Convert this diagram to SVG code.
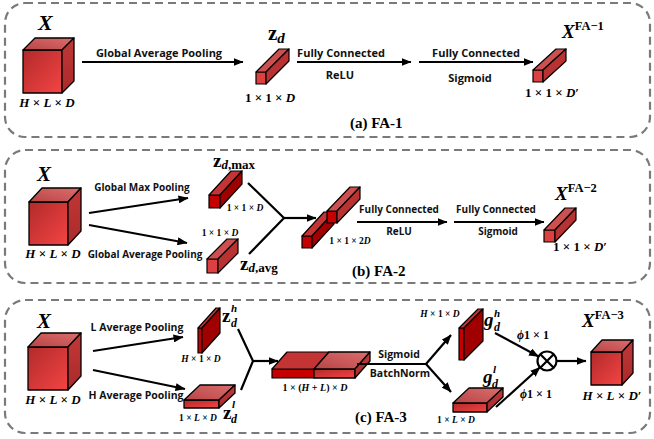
<svg xmlns="http://www.w3.org/2000/svg" width="654" height="439" viewBox="0 0 654 439">
  <defs>
    <linearGradient id="gFront" x1="0" y1="0" x2="1" y2="1">
      <stop offset="0" stop-color="#b22a2a"/>
      <stop offset="1" stop-color="#f44444"/>
    </linearGradient>
    <linearGradient id="gTop" x1="0" y1="1" x2="1" y2="0">
      <stop offset="0" stop-color="#b84444"/>
      <stop offset="1" stop-color="#dc6e6e"/>
    </linearGradient>
    <linearGradient id="gSide" x1="0" y1="0" x2="0" y2="1">
      <stop offset="0" stop-color="#c03838"/>
      <stop offset="1" stop-color="#ab2a2a"/>
    </linearGradient>
    <marker id="ah" viewBox="0 0 10 8" markerWidth="10" markerHeight="8" refX="9.5" refY="4" orient="auto" markerUnits="userSpaceOnUse">
      <path d="M0,0 L10,4 L0,8 Z" fill="#000"/>
    </marker>
    <style>
      .panel { fill: none; stroke: #7a7a7a; stroke-width: 2.2; stroke-dasharray: 8 5; }
      .fr { fill: url(#gFront); stroke: #000; stroke-width: 1.3; stroke-linejoin: round; }
      .tp { fill: url(#gTop); stroke: #000; stroke-width: 1.3; stroke-linejoin: round; }
      .sd { fill: url(#gSide); stroke: #000; stroke-width: 1.3; stroke-linejoin: round; }
      .frL { fill: #dd4040; stroke: #000; stroke-width: 1.2; stroke-linejoin: round; }
      .tpL { fill: #cc5050; stroke: #000; stroke-width: 1.2; stroke-linejoin: round; }
      .sdL { fill: #b83232; stroke: #000; stroke-width: 1.2; stroke-linejoin: round; }
      .frD { fill: #c40000; stroke: #000; stroke-width: 1.2; stroke-linejoin: round; }
      .tpD { fill: #c43434; stroke: #000; stroke-width: 1.2; stroke-linejoin: round; }
      .sdD { fill: #a00000; stroke: #000; stroke-width: 1.2; stroke-linejoin: round; }
      .ln { fill: none; stroke: #000; stroke-width: 2.2; }
      .arr { fill: none; stroke: #000; stroke-width: 2.2; marker-end: url(#ah); }
      .lbl { font-family: "Open Sans", "Noto Sans", sans-serif; font-weight: bold; font-size: 11px; fill: #111; text-anchor: middle; }
      .sm { font-size: 10px; }
      .md { font-size: 10.5px; }
      .m { font-family: "Liberation Serif", "DejaVu Serif", serif; font-weight: bold; fill: #000; }
      .it { font-style: italic; }
      .cap { font-family: "Liberation Serif", "DejaVu Serif", serif; font-weight: bold; font-size: 15px; fill: #000; }
    </style>
  </defs>

  <!-- panel frames -->
  <rect class="panel" x="5" y="3" width="645" height="134" rx="20"/>
  <rect class="panel" x="5" y="150" width="645" height="133" rx="20"/>
  <rect class="panel" x="5" y="300" width="645" height="133" rx="20"/>

  <!-- ================= (a) FA-1 ================= -->
  <g id="a-input">
    <rect class="fr" x="23" y="50" width="39" height="43"/>
    <polygon class="tp" points="23,50 62,50 74,38 35,38"/>
    <polygon class="sd" points="62,50 74,38 74,81 62,93"/>
    <text class="m it" x="38" y="30" font-size="22">X</text>
    <text class="m" x="47" y="107" font-size="13" text-anchor="middle"><tspan class="it">H</tspan> × <tspan class="it">L</tspan> × <tspan class="it">D</tspan></text>
  </g>
  <g id="a-zd">
    <rect class="frL" x="256" y="72" width="10" height="12"/>
    <polygon class="tpL" points="256,72 266,72 289,49 279,49"/>
    <polygon class="sdL" points="266,72 289,49 289,61 266,84"/>
    <text class="m" x="268" y="40" font-size="21">z<tspan class="it" font-size="15" dy="3">d</tspan></text>
    <text class="m" x="270" y="102" font-size="13" text-anchor="middle">1 × 1 × <tspan class="it">D</tspan></text>
  </g>
  <g id="a-output">
    <rect class="frL" x="533" y="70" width="10" height="12"/>
    <polygon class="tpL" points="533,70 543,70 566,49 556,49"/>
    <polygon class="sdL" points="543,70 566,49 566,61 543,82"/>
    <text class="m" x="562" y="38" font-size="19"><tspan class="it">X</tspan><tspan font-size="12.5" dy="-8">FA−1</tspan></text>
    <text class="m" x="552" y="97" font-size="13" text-anchor="middle">1 × 1 × <tspan class="it">D</tspan>′</text>
  </g>
  <g id="a-connectors">
    <line class="arr" x1="82" y1="62" x2="243" y2="62"/>
    <line class="arr" x1="297" y1="62" x2="411" y2="62"/>
    <line class="arr" x1="419" y1="62" x2="533" y2="62"/>
    <text class="lbl" x="159" y="57">Global Average Pooling</text>
    <text class="lbl" x="341" y="57">Fully Connected</text>
    <text class="lbl" x="340" y="79">ReLU</text>
    <text class="lbl" x="476" y="57">Fully Connected</text>
    <text class="lbl" x="470" y="82">Sigmoid</text>
  </g>
  <text class="cap" x="350" y="128">(a) FA-1</text>

  <!-- ================= (b) FA-2 ================= -->
  <g id="b-input">
    <rect class="fr" x="29" y="202" width="39" height="43"/>
    <polygon class="tp" points="29,202 68,202 81,188 42,188"/>
    <polygon class="sd" points="68,202 81,188 81,231 68,245"/>
    <text class="m it" x="37" y="181" font-size="21">X</text>
    <text class="m" x="53" y="258" font-size="13" text-anchor="middle"><tspan class="it">H</tspan> × <tspan class="it">L</tspan> × <tspan class="it">D</tspan></text>
  </g>
  <g id="b-zmax">
    <rect class="frD" x="209" y="195" width="11" height="13"/>
    <polygon class="tpD" points="209,195 220,195 242,171 231,171"/>
    <polygon class="sdD" points="220,195 242,171 242,184 220,208"/>
    <text class="m" x="213" y="167" font-size="19">z<tspan font-size="13" dy="2"><tspan class="it">d</tspan>,max</tspan></text>
    <text class="m" x="245" y="211" font-size="9.5" text-anchor="middle">1 × 1 × <tspan class="it">D</tspan></text>
  </g>
  <g id="b-zavg">
    <rect class="frL" x="207" y="259" width="11" height="14"/>
    <polygon class="tpL" points="207,259 218,259 238,239 227,239"/>
    <polygon class="sdL" points="218,259 238,239 238,253 218,273"/>
    <text class="m" x="240" y="270" font-size="19">z<tspan font-size="13" dy="2"><tspan class="it">d</tspan>,avg</tspan></text>
    <text class="m" x="220" y="236" font-size="9.5" text-anchor="middle">1 × 1 × <tspan class="it">D</tspan></text>
  </g>
  <g id="b-concat">
    <rect class="frD" x="302" y="236" width="10" height="12"/>
    <polygon class="tpD" points="302,236 312,236 334,212 324,212"/>
    <polygon class="sdD" points="312,236 334,212 334,224 312,248"/>
    <rect class="frD" x="327" y="211" width="10" height="12"/>
    <polygon class="tpL" points="327,211 337,211 360,187 350,187"/>
    <polygon class="sdL" points="337,211 360,187 360,199 337,223"/>
    <text class="m" x="350" y="244" font-size="9.5" text-anchor="middle">1 × 1 × 2<tspan class="it">D</tspan></text>
  </g>
  <g id="b-output">
    <rect class="frL" x="544" y="230" width="11" height="12"/>
    <polygon class="tpL" points="544,230 555,230 576,208 565,208"/>
    <polygon class="sdL" points="555,230 576,208 576,220 555,242"/>
    <text class="m" x="555" y="200" font-size="19"><tspan class="it">X</tspan><tspan font-size="12.5" dy="-8">FA−2</tspan></text>
    <text class="m" x="580" y="251" font-size="13" text-anchor="middle">1 × 1 × <tspan class="it">D</tspan>′</text>
  </g>
  <g id="b-connectors">
    <line class="arr" x1="89" y1="213" x2="188" y2="198"/>
    <line class="arr" x1="89" y1="225" x2="187" y2="243"/>
    <polyline class="ln" points="248,183 284,218 249,254"/>
    <line class="arr" x1="284" y1="218" x2="316" y2="218"/>
    <line class="arr" x1="357" y1="222" x2="447" y2="222"/>
    <line class="arr" x1="454" y1="222" x2="544" y2="222"/>
    <text class="lbl sm" x="142" y="191">Global Max Pooling</text>
    <text class="lbl sm" x="145" y="258">Global Average Pooling</text>
    <text class="lbl sm" x="399" y="213">Fully Connected</text>
    <text class="lbl sm" x="399" y="235">ReLU</text>
    <text class="lbl sm" x="496" y="213">Fully Connected</text>
    <text class="lbl sm" x="498" y="235">Sigmoid</text>
  </g>
  <text class="cap" x="352" y="276">(b) FA-2</text>

  <!-- ================= (c) FA-3 ================= -->
  <g id="c-input">
    <rect class="fr" x="28" y="347" width="40" height="43"/>
    <polygon class="tp" points="28,347 68,347 81,333 41,333"/>
    <polygon class="sd" points="68,347 81,333 81,376 68,390"/>
    <text class="m it" x="37" y="328" font-size="21">X</text>
    <text class="m" x="53" y="404" font-size="13" text-anchor="middle"><tspan class="it">H</tspan> × <tspan class="it">L</tspan> × <tspan class="it">D</tspan></text>
  </g>
  <g id="c-zh">
    <rect class="frD" x="198" y="328" width="4" height="25"/>
    <polygon class="tpD" points="198,328 202,328 220,308 216,308"/>
    <polygon class="sdD" points="202,328 220,308 220,333 202,353"/>
    <text class="m" x="222" y="322" font-size="19">z</text>
    <text class="m it" x="231" y="312" font-size="11">h</text>
    <text class="m it" x="231" y="327" font-size="12">d</text>
    <text class="m" x="201" y="362" font-size="9.5" text-anchor="middle"><tspan class="it">H</tspan> × 1 × <tspan class="it">D</tspan></text>
  </g>
  <g id="c-zl">
    <rect class="fr" x="184" y="400" width="35" height="8"/>
    <polygon class="tp" points="184,400 219,400 235,385 200,385"/>
    <polygon class="sd" points="219,400 235,385 235,393 219,408"/>
    <text class="m" x="223" y="419" font-size="19">z</text>
    <text class="m it" x="232" y="408" font-size="11">l</text>
    <text class="m it" x="231" y="423" font-size="12">d</text>
    <text class="m" x="198" y="421" font-size="9.5" text-anchor="middle">1 × <tspan class="it">L</tspan> × <tspan class="it">D</tspan></text>
  </g>
  <g id="c-concat">
    <rect class="frD" x="272" y="369" width="42" height="9"/>
    <polygon class="tpD" points="272,369 314,369 329,352 287,352"/>
    <rect class="fr" x="314" y="369" width="41" height="9"/>
    <polygon class="tp" points="314,369 355,369 370,352 329,352"/>
    <polygon class="sd" points="355,369 370,352 370,361 355,378"/>
    <text class="m" x="315" y="391" font-size="10" text-anchor="middle">1 × (<tspan class="it">H</tspan> + <tspan class="it">L</tspan>) × <tspan class="it">D</tspan></text>
  </g>
  <g id="c-gh">
    <rect class="frD" x="459" y="328" width="5" height="32"/>
    <polygon class="tpD" points="459,328 464,328 483,309 478,309"/>
    <polygon class="sdD" points="464,328 483,309 483,341 464,360"/>
    <text class="m it" x="484" y="326" font-size="19">g</text>
    <text class="m it" x="494" y="317" font-size="11">h</text>
    <text class="m it" x="494" y="331" font-size="12">d</text>
    <text class="m" x="440" y="317" font-size="9.5" text-anchor="middle"><tspan class="it">H</tspan> × 1 × <tspan class="it">D</tspan></text>
  </g>
  <g id="c-gl">
    <rect class="fr" x="453" y="403" width="34" height="9"/>
    <polygon class="tp" points="453,403 487,403 503,388 469,388"/>
    <polygon class="sd" points="487,403 503,388 503,397 487,412"/>
    <text class="m it" x="483" y="383" font-size="19">g</text>
    <text class="m it" x="493" y="373" font-size="11">l</text>
    <text class="m it" x="492" y="388" font-size="12">d</text>
    <text class="m" x="456" y="423" font-size="9.5" text-anchor="middle">1 × <tspan class="it">L</tspan> × <tspan class="it">D</tspan></text>
  </g>
  <g id="c-mult">
    <circle cx="547" cy="361" r="9.5" fill="#fff" stroke="#000" stroke-width="2.2"/>
    <path d="M540.3,354.3 L553.7,367.7 M553.7,354.3 L540.3,367.7" stroke="#000" stroke-width="2.2" fill="none"/>
  </g>
  <g id="c-output">
    <rect class="fr" x="591" y="352" width="31" height="33"/>
    <polygon class="tp" points="591,352 622,352 633,340 602,340"/>
    <polygon class="sd" points="622,352 633,340 633,373 622,385"/>
    <text class="m" x="582" y="327" font-size="19"><tspan class="it">X</tspan><tspan font-size="12.5" dy="-8">FA−3</tspan></text>
    <text class="m" x="612" y="400" font-size="13" text-anchor="middle"><tspan class="it">H</tspan> × <tspan class="it">L</tspan> × <tspan class="it">D</tspan>′</text>
  </g>
  <g id="c-connectors">
    <line class="arr" x1="93" y1="351" x2="183" y2="337"/>
    <line class="arr" x1="93" y1="370" x2="185" y2="389"/>
    <polyline class="ln" points="238,329 253,361 241,390"/>
    <line class="arr" x1="253" y1="361" x2="278" y2="361"/>
    <line class="ln" x1="357" y1="364" x2="426" y2="364"/>
    <line class="arr" x1="426" y1="364" x2="451" y2="335"/>
    <line class="arr" x1="426" y1="364" x2="451" y2="392"/>
    <line class="arr" x1="495" y1="333" x2="538.6" y2="356.5"/>
    <line class="arr" x1="496" y1="407" x2="540" y2="367.3"/>
    <line class="arr" x1="556.5" y1="361" x2="586" y2="361"/>
    <text class="lbl md" x="137" y="331">L Average Pooling</text>
    <text class="lbl md" x="136" y="399">H Average Pooling</text>
    <text class="lbl md" x="399" y="358">Sigmoid</text>
    <text class="lbl md" x="400" y="377">BatchNorm</text>
    <text class="m" x="533" y="339" font-size="12" text-anchor="middle"><tspan class="it">ϕ</tspan>1 × 1</text>
    <text class="m" x="536" y="398" font-size="12" text-anchor="middle"><tspan class="it">ϕ</tspan>1 × 1</text>
  </g>
  <text class="cap" x="355" y="422">(c) FA-3</text>
</svg>
